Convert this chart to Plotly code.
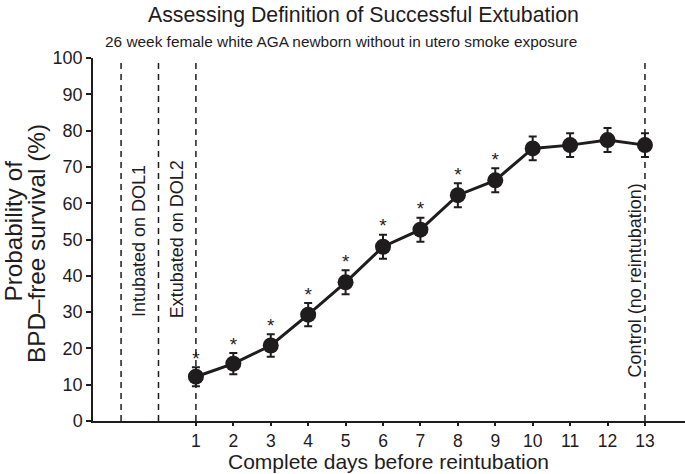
import plotly.graph_objects as go

days = [1, 2, 3, 4, 5, 6, 7, 8, 9, 10, 11, 12, 13]
prob = [12.2, 15.8, 20.8, 29.3, 38.2, 48.0, 52.7, 62.2, 66.3, 75.1, 76.0, 77.4, 76.0]
err = [2.6, 2.9, 3.1, 3.2, 3.3, 3.3, 3.3, 3.3, 3.3, 3.3, 3.3, 3.3, 3.3]
star_days = [1, 2, 3, 4, 5, 6, 7, 8, 9]
ref_lines = [-1, 0, 1, 13]
x_ticks = [1, 2, 3, 4, 5, 6, 7, 8, 9, 10, 11, 12, 13]
y_ticks = [0, 10, 20, 30, 40, 50, 60, 70, 80, 90, 100]

FONT = "Liberation Sans, Arial, sans-serif"
INK = "#1e1c1d"

fig = go.Figure()
for xv in ref_lines:
    fig.add_shape(type="line", x0=xv, x1=xv, y0=0, y1=100, xref="x", yref="y",
                  line=dict(color=INK, width=1.5, dash="6px,5px"), layer="below")

fig.add_trace(go.Scatter(
    x=days, y=prob, mode="lines+markers",
    line=dict(color=INK, width=3),
    marker=dict(size=16, color=INK),
    error_y=dict(type="data", array=err, color=INK, thickness=2, width=4),
    showlegend=False, cliponaxis=False,
))

star_y = [prob[days.index(d)] + err[days.index(d)] + 2.0 for d in star_days]
fig.add_trace(go.Scatter(
    x=star_days, y=star_y, mode="text", text=["*"] * len(star_days),
    textfont=dict(size=19, color=INK, family=FONT), showlegend=False,
))

fig.add_annotation(x=-0.5, y=49.5, text="Intubated on DOL1", textangle=-90, showarrow=False,
                   font=dict(size=18, color=INK, family=FONT))
fig.add_annotation(x=0.49, y=50, text="Extubated on DOL2", textangle=-90, showarrow=False,
                   font=dict(size=18, color=INK, family=FONT))
fig.add_annotation(x=12.74, y=38.8, text="Control (no reintubation)", textangle=-90, showarrow=False,
                   font=dict(size=18, color=INK, family=FONT))

PW, PH, L, T = 592.0, 363.0, 93.0, 58.0
def px(xp):
    return (xp - L) / PW
def py(yp):
    return (T + PH - yp) / PH

fig.add_annotation(x=px(363), y=py(15), xref="paper", yref="paper",
                   text="Assessing Definition of Successful Extubation", showarrow=False,
                   font=dict(size=21.3, color=INK, family=FONT), xanchor="center", yanchor="middle")
fig.add_annotation(x=px(341), y=py(41), xref="paper", yref="paper",
                   text="26 week female white AGA newborn without in utero smoke exposure", showarrow=False,
                   font=dict(size=15.4, color=INK, family=FONT), xanchor="center", yanchor="middle")
fig.add_annotation(x=px(388), y=py(474), xref="paper", yref="paper",
                   text="Complete days before reintubation", showarrow=False, borderpad=0,
                   font=dict(size=21, color=INK, family=FONT), xanchor="center", yanchor="bottom")
fig.add_annotation(x=px(12.5), y=py(231), xref="paper", yref="paper", textangle=-90,
                   text="Probability of", showarrow=False,
                   font=dict(size=24.3, color=INK, family=FONT), xanchor="center", yanchor="middle")
fig.add_annotation(x=px(36), y=py(244), xref="paper", yref="paper", textangle=-90,
                   text="BPD\u2013free survival (%)", showarrow=False,
                   font=dict(size=24.3, color=INK, family=FONT), xanchor="center", yanchor="middle")

fig.update_layout(
    width=685, height=474,
    margin=dict(l=93, r=0, t=58, b=53, autoexpand=False),
    plot_bgcolor="white", paper_bgcolor="white",
    font=dict(family=FONT, color=INK),
    xaxis=dict(range=[-1.75, 14.07], tickvals=x_ticks, ticks="outside", ticklen=3,
               tickwidth=1.5, tickcolor=INK, showline=True, linecolor=INK, linewidth=1.5,
               showgrid=False, zeroline=False, tickfont=dict(size=17.5), automargin=False),
    yaxis=dict(range=[0, 100], tickvals=y_ticks, ticks="outside", ticklen=5,
               tickwidth=1.5, tickcolor=INK, showline=True, linecolor=INK, linewidth=1.5,
               showgrid=False, zeroline=False, tickfont=dict(size=18), automargin=False),
)

fig.write_html("out.html", config={"displayModeBar": False},
               post_script="document.body.style.margin='0';document.body.style.padding='0';")
